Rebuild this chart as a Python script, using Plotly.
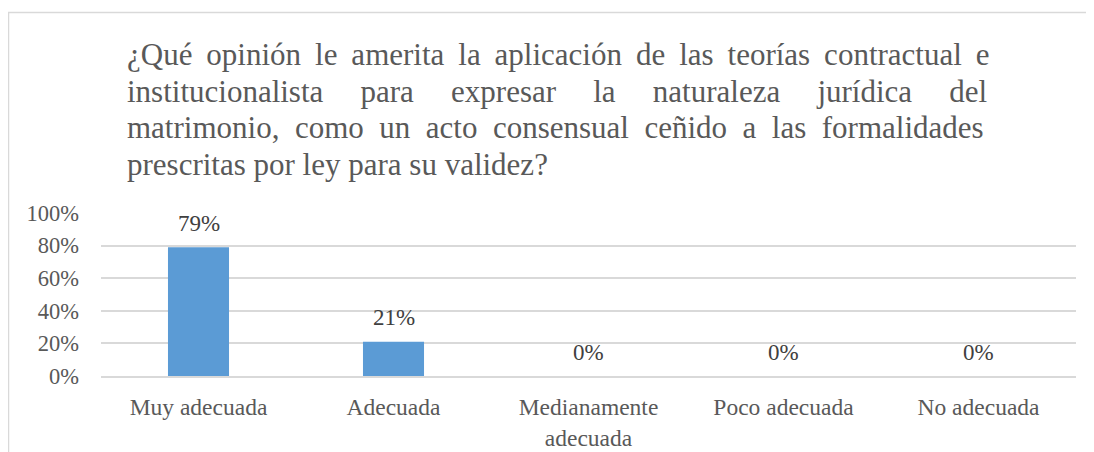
import plotly.graph_objects as go

# datos
categorias = ["Muy adecuada", "Adecuada", "Medianamente<br>adecuada", "Poco adecuada", "No adecuada"]
porcentajes = [0.79, 0.21, 0.0, 0.0, 0.0]
etiquetas = ["79%", "21%", "0%", "0%", "0%"]

titulo_lineas = [
    "¿Qué opinión le amerita la aplicación de las teorías contractual e",
    "institucionalista para expresar la naturaleza jurídica del",
    "matrimonio, como un acto consensual ceñido a las formalidades",
    "prescritas por ley para su validez?",
]
# separadores entre palabras (imitan el texto justificado)
separadores = ["\u00a0\u2009", "\u00a0" * 4 + "\u2009", "\u00a0\u00a0", " "]

# la pagina tiene 8px de margen en el body
OFF = 8
W, H = 1094 - OFF, 452 - OFF
ML, MR, MT, MB = 101 - OFF, 18, 213 - OFF, 76
PW, PH = W - ML - MR, H - MT - MB


def px_x(x):
    return (x - OFF - ML) / PW


def px_y(y):
    return (H - MB - (y - OFF)) / PH


fuente = "Liberation Serif"
gris = "#595959"

fig = go.Figure()
fig.add_trace(go.Bar(
    x=categorias,
    y=porcentajes,
    marker=dict(color="#5B9BD5", line=dict(width=0)),
    hoverinfo="skip",
))

anotaciones = []
# etiquetas de datos
for c, v, t in zip(categorias, porcentajes, etiquetas):
    anotaciones.append(dict(
        x=c, y=v, xref="x", yref="y", text=t, showarrow=False,
        yanchor="middle", yshift=24,
        font=dict(family=fuente, size=23, color="#404040"),
    ))

# titulo, una linea por anotacion
centros = [54, 91, 128, 164]
for linea, sep, yc in zip(titulo_lineas, separadores, centros):
    texto = sep.join(linea.split(" "))
    anotaciones.append(dict(
        x=px_x(125), y=px_y(yc), xref="paper", yref="paper",
        xanchor="left", yanchor="middle", text=texto, showarrow=False,
        font=dict(family=fuente, size=31, color=gris),
    ))

fig.update_layout(
    width=W, height=H,
    margin=dict(l=ML, r=MR, t=MT, b=MB),
    paper_bgcolor="white",
    plot_bgcolor="white",
    showlegend=False,
    bargap=0.687,
    annotations=anotaciones,
    shapes=[dict(
        type="rect", xref="paper", yref="paper",
        x0=px_x(8.5), x1=px_x(1110), y0=px_y(470), y1=px_y(12.5),
        line=dict(color="#D9D9D9", width=1.5), layer="below",
    )],
    font=dict(family=fuente, size=23, color=gris),
    xaxis=dict(
        showgrid=False, showline=True, linecolor="#D9D9D9", linewidth=1.5,
        ticks="", ticklabelstandoff=9, tickfont=dict(size=23.5),
        automargin=False,
    ),
    yaxis=dict(
        range=[0, 1], dtick=0.2, tickformat=".0%",
        showgrid=True, gridcolor="#D9D9D9", gridwidth=1.5,
        zeroline=False, showline=False, ticks="",
        ticklabelstandoff=21, tickfont=dict(size=22.5),
        automargin=False,
    ),
)

fig.write_html("out.html")
